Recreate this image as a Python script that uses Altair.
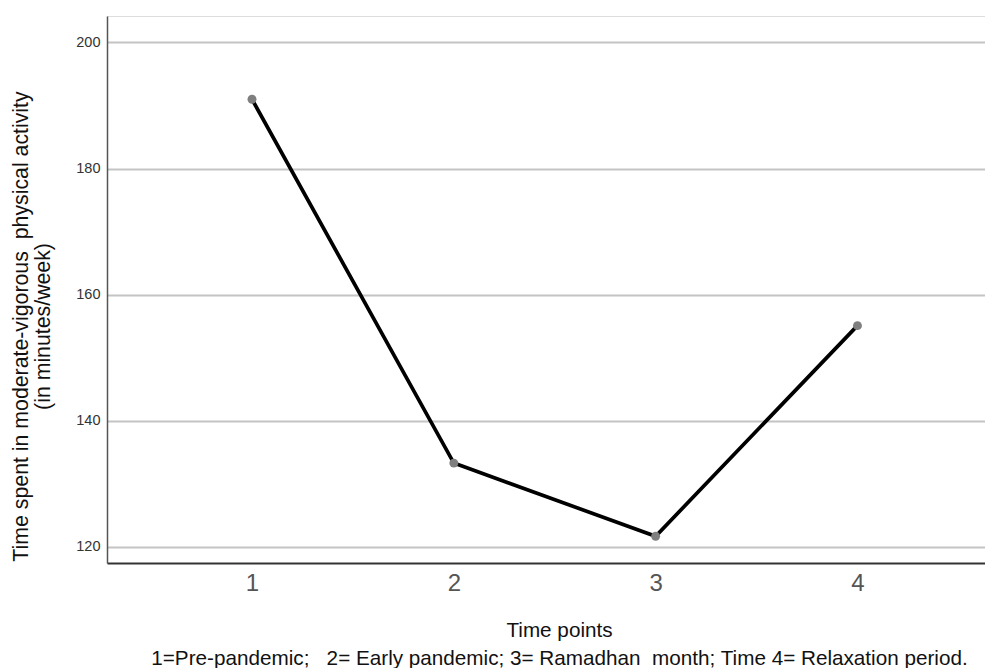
import altair as alt
import pandas as pd

time_points = [1, 2, 3, 4]
minutes = [191.0, 133.3, 121.7, 155.1]
y_ticks = [120, 140, 160, 180, 200]
x_ticks = [1, 2, 3, 4]

NB = "\u00a0"
x_title = ["Time points",
           f"1=Pre-pandemic;{NB}{NB} 2= Early pandemic;{NB}3= Ramadhan{NB} month; Time 4= Relaxation period."]
y_title = [f"Time spent in moderate-vigorous{NB} physical activity", "(in minutes/week)"]

df = pd.DataFrame({"time": time_points, "minutes": minutes})

x_enc = alt.X(
    "time:Q",
    scale=alt.Scale(domain=[0.2815, 4.632], nice=False, zero=False),
    axis=alt.Axis(
        values=x_ticks,
        format="d",
        grid=False,
        ticks=False,
        domain=True,
        domainColor="#333333",
        domainWidth=2,
        labelFont="Liberation Sans",
        labelFontSize=24,
        labelColor="#555555",
        labelPadding=8,
        title=x_title,
        titleFont="Liberation Sans",
        titleFontSize=20.7,
        titleFontWeight="normal",
        titleColor="#111111",
        titleLineHeight=28,
        titleX=452,
        titleY=73,
        titleBaseline="alphabetic",
        titleAlign="center",
    ),
)

y_enc = alt.Y(
    "minutes:Q",
    scale=alt.Scale(domain=[117.46, 204.2], nice=False, zero=False),
    axis=alt.Axis(
        values=y_ticks,
        grid=True,
        gridColor="#c4c4c4",
        gridWidth=2,
        ticks=False,
        domain=True,
        domainColor="#555555",
        domainWidth=1.5,
        labelFont="Liberation Sans",
        labelFontSize=14.5,
        labelColor="#333333",
        labelPadding=7,
        title=y_title,
        titleFont="Liberation Sans",
        titleFontSize=21.3,
        titleFontWeight="normal",
        titleColor="#111111",
        titleLineHeight=22,
        titleAngle=-90,
        titleAlign="center",
        titleBaseline="alphabetic",
        titleX=-80,
        titleY=310,
    ),
)

line = alt.Chart(df).mark_line(color="#000000", strokeWidth=3.7).encode(x=x_enc, y=y_enc)
points = alt.Chart(df).mark_point(filled=True, color="#7f7f7f", size=80, opacity=1).encode(
    x="time:Q", y="minutes:Q"
)

chart = (
    alt.layer(line, points)
    .properties(
        width=878,
        height=547,
        autosize=alt.AutoSizeParams(type="none"),
        padding={"left": 99, "top": 8, "right": 0, "bottom": 105},
    )
    .configure_view(stroke=None)
    .configure(background="white")
)

chart.save("out.html", embed_options={"renderer": "svg", "actions": False})
